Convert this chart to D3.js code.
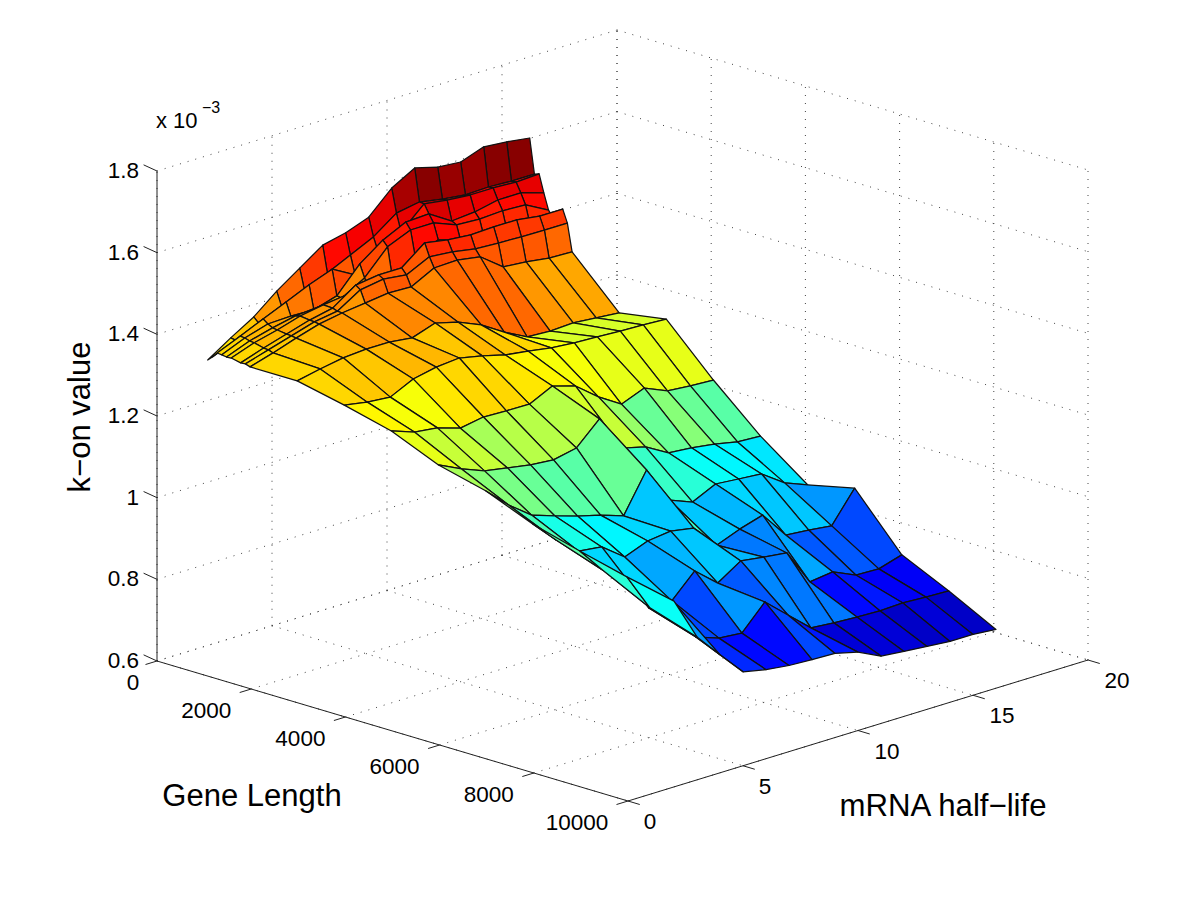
<!DOCTYPE html>
<html><head><meta charset="utf-8">
<style>html,body{margin:0;background:#fff}svg{display:block}text{font-family:"Liberation Sans",Arial,sans-serif;fill:#000}</style>
<script src="https://cdnjs.cloudflare.com/ajax/libs/d3/7.8.5/d3.min.js"></script>
</head><body><svg id="c" width="1200" height="901"></svg>
<script>
// Gene length of each surface row, half-life of each surface column
const geneLength = [100,200,300,400,500,600,800,900,1000,2000,3000,4000,5000,6000,7000,8000,9000,10000];
const halfLife = [2,3,4,5,6,7,8,9,10,11,12,13,14,15,16];
// k-on values (x 10^-3), one array per gene-length row, across half-life
const k100  = [1.306,1.343,1.377,1.423,1.462,1.501,1.514,1.535,1.589,1.621,1.606,1.601,1.621,1.616,1.608];
const k200  = [1.317,1.341,1.366,1.390,1.412,1.436,1.463,1.490,1.531,1.541,1.531,1.524,1.526,1.523,1.523];
const k300  = [1.330,1.354,1.379,1.403,1.428,1.449,1.418,1.457,1.488,1.540,1.532,1.527,1.527,1.524,1.527];
const k400  = [1.329,1.353,1.370,1.372,1.370,1.387,1.448,1.489,1.516,1.519,1.484,1.489,1.501,1.501,1.484];
const k500  = [1.327,1.349,1.364,1.376,1.381,1.385,1.417,1.476,1.500,1.500,1.478,1.475,1.478,1.475,1.445];
const k600  = [1.328,1.348,1.362,1.379,1.389,1.396,1.396,1.406,1.437,1.462,1.437,1.432,1.430,1.427,1.429];
const k800  = [1.323,1.342,1.359,1.376,1.388,1.427,1.435,1.435,1.479,1.469,1.464,1.466,1.466,1.458,1.458];
const k900  = [1.324,1.341,1.358,1.375,1.384,1.419,1.428,1.421,1.448,1.443,1.433,1.430,1.428,1.427,1.427];
const k1000 = [1.320,1.337,1.356,1.373,1.383,1.390,1.397,1.395,1.424,1.426,1.417,1.375,1.370,1.362,1.360];
const k2000 = [1.320,1.332,1.342,1.346,1.346,1.339,1.358,1.343,1.319,1.284,1.255,1.252,1.255,1.250,1.245];
const k3000 = [1.295,1.285,1.280,1.307,1.319,1.324,1.312,1.297,1.289,1.280,1.275,1.272,1.269,1.267,1.264];
const k4000 = [1.266,1.246,1.239,1.221,1.231,1.229,1.228,1.255,1.238,1.194,1.159,1.181,1.157,1.152,1.149];
const k5000 = [1.217,1.190,1.168,1.158,1.148,1.143,1.155,1.209,1.120,1.106,1.074,1.069,1.061,1.049,1.046];
const k6000 = [1.188,1.136,1.094,1.075,1.057,1.042,1.023,1.118,1.027,1.005,1.032,1.027,1.022,0.983,0.961];
const k7000 = [1.141,1.085,1.040,1.033,0.991,1.013,1.020,1.010,0.951,0.973,0.990,0.924,0.919,0.912,0.987];
const k8000 = [1.109,1.045,1.011,0.918,0.918,0.974,0.927,0.964,0.956,0.949,0.861,0.868,0.843,0.841,0.858];
const k9000 = [1.080,0.987,0.986,0.881,0.861,0.856,0.915,0.866,0.817,0.812,0.809,0.807,0.809,0.806,0.804];
const k10000= [1.055,0.950,0.889,0.830,0.818,0.811,0.808,0.806,0.792,0.765,0.759,0.754,0.749,0.749,0.744];
const kOn = [k100,k200,k300,k400,k500,k600,k800,k900,k1000,k2000,k3000,k4000,k5000,k6000,k7000,k8000,k9000,k10000];
const geneTicks = [0,2000,4000,6000,8000,10000];
const lifeTicks = [0,5,10,15,20];
const kTicks = [0.6,0.8,1,1.2,1.4,1.6,1.8];
const colorLimits = [0.74,1.62];

const gX = d3.scaleLinear([0,10000],[157,628]), gY = d3.scaleLinear([0,10000],[661,801]);
const hX = d3.scaleLinear([0,20],[0,460]), hY = d3.scaleLinear([0,20],[0,-141]);
const kY = d3.scaleLinear([0.6,1.8],[0,-490]);
const P = (g,h,k)=>[gX(g)+hX(h), gY(g)+hY(h)+kY(k)];

const jet = d3.scaleLinear([0,.125,.375,.625,.875,1],
  ["#000080","#0000ff","#00ffff","#ffff00","#ff0000","#800000"]).interpolate(d3.interpolateRgb);
const level = d3.scaleLinear(colorLimits,[0,1]).clamp(true);
const color = k => jet((Math.min(63,Math.floor(level(k)*64))+.5)/64);

const svg = d3.select("#c"), line = d3.line();
const gridG = svg.append("g").attr("fill","none").attr("stroke","#444").attr("stroke-width",1).attr("stroke-dasharray","1 7");
const seg = (g0,h0,k0,g1,h1,k1)=>gridG.append("path").attr("d",line([P(g0,h0,k0),P(g1,h1,k1)]));
const gMax=10000,hMax=20,kMin=.6,kMax=1.8;
geneTicks.forEach(g=>{seg(g,0,kMin,g,hMax,kMin); seg(g,hMax,kMin,g,hMax,kMax);});
lifeTicks.forEach(h=>{seg(0,h,kMin,gMax,h,kMin); seg(0,h,kMin,0,h,kMax);});
kTicks.forEach(k=>{seg(0,0,k,0,hMax,k); seg(0,hMax,k,gMax,hMax,k);});

// surface, back to front
const cells=[];
geneLength.slice(0,-1).forEach((g,i)=>{
  for(let j=halfLife.length-2;j>=0;j--){
    const g1=geneLength[i+1],h=halfLife[j],h1=halfLife[j+1];
    cells.push({c:kOn[i][j],pts:[P(g,h,kOn[i][j]),P(g,h1,kOn[i][j+1]),P(g1,h1,kOn[i+1][j+1]),P(g1,h,kOn[i+1][j])]});
  }
});
svg.append("g").selectAll("path").data(cells).join("path")
  .attr("d",d=>line(d.pts)+"Z").attr("fill",d=>color(d.c))
  .attr("stroke","#111").attr("stroke-width",1.25).attr("stroke-linejoin","round");

// axes
const ax = svg.append("g").attr("stroke","#222").attr("stroke-width",1).attr("fill","none");
const axl=(a,b)=>ax.append("path").attr("d",line([a,b]));
axl(P(0,0,kMin),P(0,0,kMax)); axl(P(0,0,kMin),P(gMax,0,kMin)); axl(P(gMax,0,kMin),P(gMax,hMax,kMin));
kTicks.forEach(k=>axl(P(0,0,k),P(-260,-0.05,k+0.007)));
geneTicks.forEach(g=>axl(P(g,0,kMin),P(g,-0.5,kMin)));
lifeTicks.forEach(h=>axl(P(gMax,h,kMin),P(gMax+250,h,kMin)));

const txt=(x,y,s,size,anchor)=>svg.append("text").attr("x",x).attr("y",y).attr("font-size",size).attr("text-anchor",anchor||"middle").text(s);
kTicks.forEach(k=>{const p=P(0,0,k); txt(p[0]-18,p[1]+7,String(k),22.5,"end");});
geneTicks.forEach(g=>{const p=P(g,0,kMin); txt(p[0]-(g===0?24:(g===gMax?51:45)),p[1]+29,String(g),22.5);});
lifeTicks.forEach(h=>{const p=P(gMax,h,kMin); txt(p[0]+22+(h>=10?7:0),p[1]+28,String(h),22.5);});
txt(156,128,"x 10",22,"start");
txt(202,113,"\u22123",16,"start");
svg.append("text").attr("transform","translate(90,417) rotate(-90)").attr("font-size",31).attr("text-anchor","middle").text("k\u2212on value");
txt(252,806,"Gene Length",31);
txt(943,816,"mRNA half\u2212life",31.2);
</script></body></html>
